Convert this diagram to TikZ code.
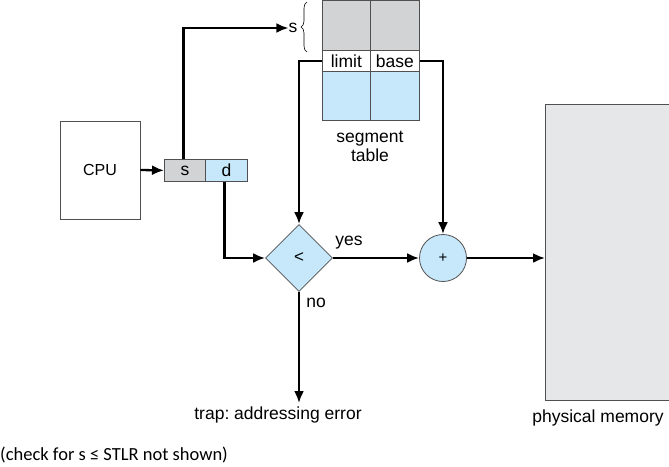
\documentclass[tikz,border=0pt]{standalone}
\usepackage{fontspec}
\setmainfont{Liberation Sans}
\newfontfamily\notefont{Carlito}
\usetikzlibrary{arrows.meta,shapes.geometric,decorations.pathreplacing}
\definecolor{cellgray}{RGB}{209,211,212}
\definecolor{cellblue}{RGB}{199,232,250}
\definecolor{memgray}{RGB}{230,231,232}
\definecolor{edgegray}{RGB}{80,80,80}
\tikzset{
  lbl/.style={font=\fontsize{17.5}{20}\selectfont, inner sep=0pt},
  cell/.style={draw=edgegray, line width=0.8pt, minimum height=#1, inner sep=0pt, anchor=north west, font=\fontsize{17.5}{20}\selectfont},
  conn/.style={line width=2.3pt, -{Latex[length=12pt,width=10pt]}},
}
\frenchspacing
\begin{document}
\begin{tikzpicture}[x=1pt,y=-1pt]
\useasboundingbox (0,0) rectangle (669,466);
% CPU
\node[draw=edgegray, line width=0.8pt, minimum width=80pt, minimum height=98pt, inner sep=0pt, font=\fontsize{16}{18}\selectfont] (cpu) at (100,170) {CPU};
% logical address
\node[cell=22pt, fill=cellgray, minimum width=41pt] (s) at (164,159) {s};
\node[cell=22pt, fill=cellblue, minimum width=42pt] (d) at (205,159) {d};
% segment table
\node[cell=50pt, fill=cellgray, minimum width=48pt] (g1) at (322,0) {};
\node[cell=50pt, fill=cellgray, minimum width=49pt] (g2) at (370,0) {};
\node[cell=21pt, fill=white, minimum width=48pt] (limit) at (322,50) {limit};
\node[cell=21pt, fill=white, minimum width=49pt] (base) at (370,50) {base};
\node[cell=49pt, fill=cellblue, minimum width=48pt] (b1) at (322,71) {};
\node[cell=49pt, fill=cellblue, minimum width=49pt] (b2) at (370,71) {};
\node[lbl, align=center] (segtab) at (370,146) {segment\\[-1pt]table};
\draw[line width=0.6pt, decorate, decoration={brace, amplitude=6pt}] (307,52) -- (307,2);
\node[lbl] (slabel) at (293,28) {s};
% comparator and adder
\node[diamond, aspect=1, draw=edgegray, line width=0.8pt, fill=cellblue, minimum width=67pt, minimum height=67pt, inner sep=0pt, font=\fontsize{17}{20}\selectfont] (dia) at (299,258) {<};
\node[circle, draw=edgegray, line width=0.8pt, fill=cellblue, minimum size=47pt, inner sep=0pt, font=\fontsize{15}{18}\selectfont] (plus) at (443,258) {+};
% memory
\node[draw=edgegray, line width=0.8pt, fill=memgray, minimum width=124pt, minimum height=296pt, inner sep=0pt, anchor=north west] (mem) at (545,104) {};
\node[lbl] (memlbl) at (598,418) {physical memory};
\node[lbl] (trap) at (278,415) {trap: addressing error};
\node[lbl] (yes) at (349,243) {yes};
\node[lbl] (no) at (316,303) {no};
\node[font=\notefont\fontsize{18.5}{22}\selectfont, inner sep=0pt, anchor=west] (note) at (0,455) {(check for s ≤ STLR not shown)};
% connectors
\draw[conn] (cpu.east) -- (s.west);
\draw[conn] ([xshift=-1.5pt]s.north) |- (slabel.west);
\draw[conn] (limit.west) -| (dia.north);
\draw[conn] (base.east) -| (plus.north);
\draw[conn] ([xshift=-2pt]d.south) |- (dia.west);
\draw[conn] (dia.east) -- (plus.west);
\draw[conn] (plus.east) -- (plus.east -| mem.west);
\coordinate (trapend) at (dia.south |- 0,403);
\draw[conn] (dia.south) -- (trapend);
\end{tikzpicture}
\end{document}
